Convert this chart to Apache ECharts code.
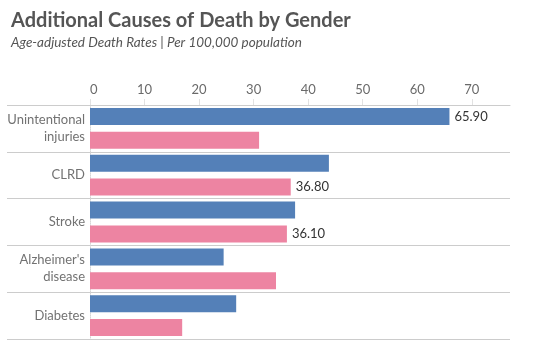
<!DOCTYPE html>
<html>

<head>
  <meta charset="utf-8" />
  <title></title>
  <script src="https://cdn.jsdelivr.net/npm/echarts@6/dist/echarts.min.js"></script>
  <style>
    * {
      margin: 0;
      padding: 0;
    }

    #chart-container {
      position: relative;
      width: 538px;
      height: 350px;
      overflow: hidden;
    }
  </style>
</head>

<body>
  <div id="chart-container"></div>

  <script>
    const causes = ["Unintentional\ninjuries", "CLRD", "Stroke", "Alzheimer's\ndisease", "Diabetes"];
    const maleRates = [65.9, 43.8, 37.6, 24.5, 26.8];
    const femaleRates = [31.0, 36.8, 36.1, 34.1, 16.9];
    // which bars carry a value label in the original
    const maleLabeled = [true, false, false, false, false];
    const femaleLabeled = [false, true, true, false, false];

    const lineColor = "#cccccc";
    const font = "Lato";

    const toData = (vals, flags) => vals.map((v, i) => ({
      value: v,
      label: { show: flags[i] }
    }));

    var dom = document.getElementById("chart-container");
    var myChart = echarts.init(dom, null, { renderer: "canvas" });

    var option = {
      animation: false,
      textStyle: { fontFamily: font },
      title: {
        text: "Additional Causes of Death by Gender",
        subtext: "Age-adjusted Death Rates | Per 100,000 population",
        left: 11,
        top: 9,
        padding: 0,
        itemGap: 2,
        textStyle: { fontFamily: font, fontSize: 20, fontWeight: "bold", color: "#555555", lineHeight: 23 },
        subtextStyle: { fontFamily: font, fontSize: 13.5, fontStyle: "italic", color: "#555555", lineHeight: 17 }
      },
      grid: { left: 90, right: 28, top: 105, bottom: 11 },
      xAxis: {
        type: "value",
        position: "top",
        min: 0,
        max: 77,
        interval: 10,
        axisLine: { show: true, lineStyle: { color: lineColor } },
        axisTick: { show: true, length: 6, lineStyle: { color: "#e2e2e2" } },
        axisLabel: { margin: 9, fontSize: 13, color: "#6a6a6a", showMaxLabel: false, alignMinLabel: "left" },
        splitLine: { show: false }
      },
      yAxis: {
        type: "category",
        data: causes,
        inverse: true,
        axisLine: { show: true, lineStyle: { color: "#d6d6d6", type: "dotted" } },
        axisTick: { show: true, interval: 0, length: 83, lineStyle: { color: lineColor } },
        axisLabel: { margin: 5, fontSize: 13, color: "#727272", lineHeight: 17 },
        splitLine: { show: true, interval: 0, lineStyle: { color: lineColor } }
      },
      series: [
        {
          name: "Male",
          type: "bar",
          data: toData(maleRates, maleLabeled),
          barWidth: 17,
          barGap: "40%",
          itemStyle: { color: "#5480b8" },
          label: { position: "right", distance: 5, fontSize: 13, color: "#333333", formatter: (p) => p.value.toFixed(2) }
        },
        {
          name: "Female",
          type: "bar",
          data: toData(femaleRates, femaleLabeled),
          barWidth: 17,
          itemStyle: { color: "#ed84a2" },
          label: { position: "right", distance: 5, fontSize: 13, color: "#333333", formatter: (p) => p.value.toFixed(2) }
        }
      ]
    };

    myChart.setOption(option);

    window.addEventListener("resize", myChart.resize);
  </script>
</body>

</html>
